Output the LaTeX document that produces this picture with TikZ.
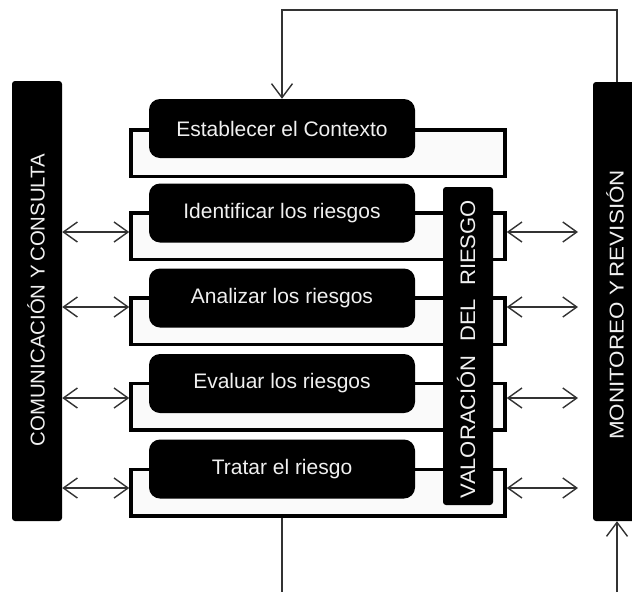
\documentclass[tikz,border=0pt]{standalone}
\usepackage{fontspec}
\usepackage{graphicx}
\setmainfont{Liberation Sans}
\usetikzlibrary{arrows.meta}
\begin{document}
\begin{tikzpicture}[x=1pt,y=-1pt,
  blk/.style={fill=black, rounded corners=11pt, minimum width=266pt, minimum height=59pt, inner sep=0pt, text=white!94!black, font=\fontsize{21}{25}\selectfont},
  frame/.style={draw=black, line width=3.5pt, fill=white!98!black, minimum width=374pt, minimum height=46.5pt, inner sep=0pt},
  bar/.style={fill=black, rounded corners=3pt, inner sep=0pt},
  vtext/.style={rotate=90, text=white!94!black, inner sep=0pt, font=\fontsize{20}{24}\selectfont},
  link/.style={draw=black!80, line width=1.4pt},
  dbl/.style={link, {Straight Barb[length=14pt,width=20pt]}-{Straight Barb[length=14pt,width=20pt]}},
  sgl/.style={link, -{Straight Barb[length=14pt,width=21pt]}},
]
\useasboundingbox (0,0) rectangle (632,592);

% side bars
\node[bar, minimum width=50pt, minimum height=440pt] (lbar) at (37,301) {};
\node[vtext] (ltxt) at (36,300) {\scalebox{1.02}[1]{COMUNICACIÓN Y\,CONSULTA}};
\node[bar, minimum width=48pt, minimum height=439pt] (rbar) at (617,301.5) {};
\node[vtext] (rtxt) at (615,305) {\scalebox{1.12}[1]{MONITOREO Y\,REVISIÓN}};

% frames
\node[frame] (o1) at (318,153) {};
\node[frame] (o2) at (318,236) {};
\node[frame] (o3) at (318,321) {};
\node[frame] (o4) at (318,406.5) {};
\node[frame] (o5) at (318,492.5) {};

% black boxes
\node[blk] (b1) at (282,128.5) {Establecer el Contexto};
\node[blk] (b2) at (282,213) {Identificar los riesgos};
\node[blk] (b3) at (282,298) {Analizar los riesgos};
\node[blk] (b4) at (282,383.5) {Evaluar los riesgos};
\node[blk] (b5) at (282,469) {Tratar el riesgo};

% valoracion
\node[bar, minimum width=50pt, minimum height=318pt] (val) at (468,346) {};
\node[vtext, font=\fontsize{21}{25}\selectfont] (vtxt) at (466,349) {\scalebox{1.05}[1]{VALORACIÓN\hspace{0.6em}DEL\hspace{0.6em}RIESGO}};

% arrow levels
\coordinate (r2) at (578,232);
\coordinate (r3) at (578,307);
\coordinate (r4) at (578,398);
\coordinate (r5) at (578,488);

\draw[dbl] (lbar.east |- r2) -- (o2.west |- r2);
\draw[dbl] (lbar.east |- r3) -- (o3.west |- r3);
\draw[dbl] (lbar.east |- r4) -- (o4.west |- r4);
\draw[dbl] (lbar.east |- r5) -- (o5.west |- r5);

\draw[dbl] (o2.east |- r2) -- (r2);
\draw[dbl] (o3.east |- r3) -- (r3);
\draw[dbl] (o4.east |- r4) -- (r4);
\draw[dbl] (o5.east |- r5) -- (r5);

% feedback loop
\coordinate (tc) at (450,10);
\coordinate (bc) at (450,592);
\draw[sgl] (rbar.north) |- (tc) -| (b1.north);
\draw[link] (b5 |- o5.south) -- (b5 |- bc);
\draw[sgl] (rbar.south |- bc) -- (rbar.south);
\end{tikzpicture}
\end{document}
